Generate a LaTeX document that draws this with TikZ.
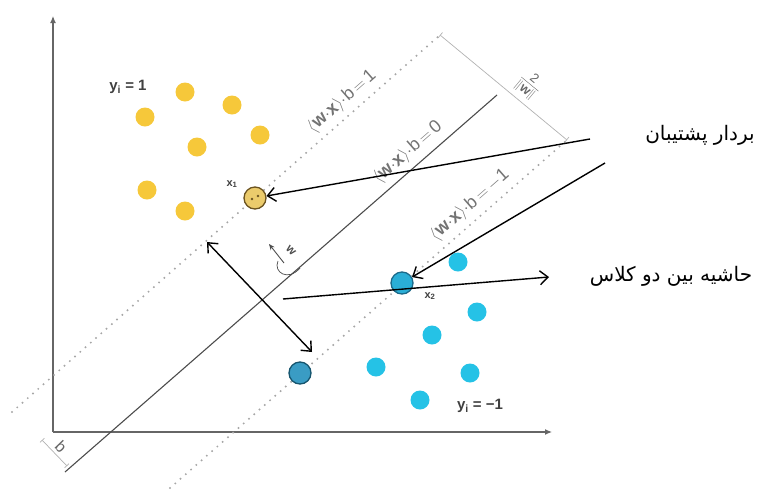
\documentclass[tikz,border=0pt]{standalone}
\usepackage{fontspec}
\usetikzlibrary{arrows.meta}
\TeXXeTstate=1
\newfontfamily\fa[Script=Arabic]{DejaVu Sans}
\newfontfamily\lab{Liberation Sans}
\definecolor{yel}{HTML}{F6C83A}
\definecolor{cyn}{HTML}{25C2E6}
\definecolor{svyel}{HTML}{EBCB6C}
\definecolor{svyeld}{HTML}{6B5320}
\definecolor{svcyn}{HTML}{2AAED6}
\definecolor{svcynd}{HTML}{1B6A8A}
\definecolor{svblu}{HTML}{3A9CC4}
\newcommand{\hyplbl}[1]{$\langle$\textbf{w}$\cdot$\textbf{x}$\rangle\cdot$b$\,{=}\,$#1}
\begin{document}
\begin{tikzpicture}[x=1pt,y=-1pt,
  dotl/.style={line width=2.2pt, draw=gray!70, dash pattern=on 0pt off 7pt, line cap=round},
  hyper/.style={line width=1.1pt, draw=black!70},
  axis/.style={line width=1.2pt, draw=black!60, -{Latex[length=7pt,width=6pt]}},
  conn/.style={line width=1.4pt, draw=black, -{Straight Barb[length=8pt,width=14pt]}},
  dconn/.style={line width=1.4pt, draw=black, {Straight Barb[length=8pt,width=14pt]}-{Straight Barb[length=8pt,width=14pt]}},
  pt/.style={circle, minimum size=19pt, inner sep=0pt},
  ypt/.style={pt, fill=yel},
  cpt/.style={pt, fill=cyn},
  lbl/.style={font=\lab\fontsize{18}{18}\selectfont, text=black!55},
  cls/.style={font=\lab\bfseries\fontsize{15}{15}\selectfont, text=black!75},
  fatxt/.style={font=\fa\fontsize{20}{24}\selectfont, text=black}]
\useasboundingbox (0,0) rectangle (761,491);
% axes
\coordinate (O) at (53,432);
\coordinate (Ytop) at (53,16);
\coordinate (Xend) at (552,432);
\draw[axis] (O) -- (Ytop);
\draw[axis] (O) -- (Xend);
% hyperplanes
\coordinate (U1) at (12,412);
\coordinate (U2) at (440,35);
\coordinate (S1) at (65,472);
\coordinate (S2) at (497,95);
\coordinate (L1) at (170,488);
\coordinate (L2) at (567,140);
\draw[dotl] (U1) -- (U2) node[pos=0.794, sloped, above=5pt, lbl, inner sep=0pt] {\hyplbl{1}};
\draw[hyper] (S1) -- (S2) node[pos=0.817, sloped, above=6pt, lbl, inner sep=0pt] {\hyplbl{0}};
\draw[dotl] (L1) -- (L2) node[pos=0.78, sloped, above=5pt, lbl, inner sep=0pt] {\hyplbl{$-$1}};
% margin width
\draw[gray!60, line width=0.7pt, {Bar[width=7pt]}-{Bar[width=7pt]}] (U2) -- (L2)
  node[pos=0.61, sloped, above=4pt, text=black!60, font=\lab\fontsize{13}{13}\selectfont, inner sep=0pt]
  {\begin{tabular}{@{}c@{}}2\\[-1pt]\hline\rule{0pt}{11pt}$\|$\textbf{w}$\|$\end{tabular}};
% b
\coordinate (B1) at (42,440);
\coordinate (B2) at (67,466);
\draw[gray!60, line width=0.7pt, {Bar[width=6pt]}-{Bar[width=6pt]}] (B1) -- (B2)
  node[midway, sloped, above=3pt, text=black!60, font=\lab\fontsize{16}{16}\selectfont, inner sep=0pt] {b};
% w vector
\coordinate (W0) at (284,263);
\coordinate (W1) at (269,244);
\draw[black!70, line width=0.9pt, -{Stealth[length=6pt,width=5pt]}] (W0) -- (W1);
\node[text=black!70, font=\lab\bfseries\fontsize{12}{12}\selectfont, inner sep=0pt, rotate=-45] (wl) at (291,251) {w};
\draw[black!70, line width=0.7pt] (278,261) .. controls (273,272) and (288,282) .. (300,268);
% class +1 points
\foreach \p [count=\i] in {(185,92),(232,105),(145,117),(260,135),(197,147),(147,190),(185,211)}
  \node[ypt] (y\i) at \p {};
% class -1 points
\foreach \p [count=\i] in {(458,262),(477,312),(432,335),(376,367),(470,373),(420,400)}
  \node[cpt] (c\i) at \p {};
% support vectors
\node[pt, fill=svyel, draw=svyeld, line width=1.3pt, minimum size=22pt] (x1) at (255,198) {};
\fill[svyeld] (252,199) circle (1.3pt) (258,196) circle (1.3pt);
\node[pt, fill=svcyn, draw=svcynd, line width=1.3pt, minimum size=22pt] (x2) at (402,283) {};
\node[pt, fill=svblu, draw=svcynd!80!black, line width=1.3pt, minimum size=22pt] (x3) at (300,373) {};
% labels
\node[cls] (lp) at (128,87) {y\textsubscript{i} = 1};
\node[cls] (lm) at (480,406) {y\textsubscript{i} = −1};
\node[cls, font=\lab\bfseries\fontsize{11}{11}\selectfont] (lx1) at (232,184) {x\textsubscript{1}};
\node[cls, font=\lab\bfseries\fontsize{11}{11}\selectfont] (lx2) at (430,296) {x\textsubscript{2}};
% Persian texts
\node[fatxt] (sv) at (700,135) {\beginR بردار پشتیبان\endR};
\node[fatxt] (mg) at (671,276) {\beginR حاشیه بین دو کلاس\endR};
% connectors
\coordinate (a1) at (590,139);
\coordinate (a2) at (605,163);
\draw[conn] (a1) -- (x1);
\draw[conn] (a2) -- (x2);
\coordinate (m1) at (283,299);
\coordinate (m2) at (549,277);
\draw[conn] (m1) -- (m2);
\coordinate (d1) at (207,242);
\coordinate (d2) at (312,352);
\draw[dconn] (d1) -- (d2);
\end{tikzpicture}
\end{document}
